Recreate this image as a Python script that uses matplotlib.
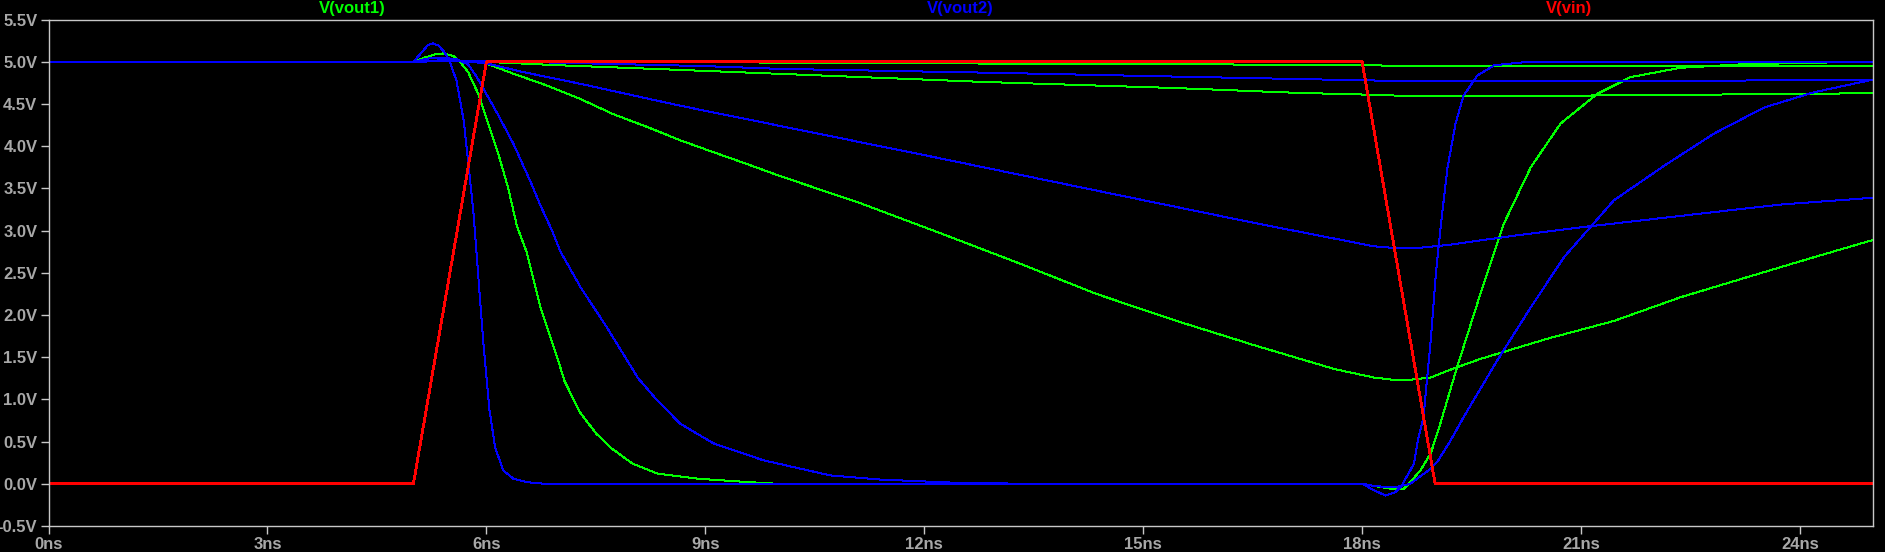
import numpy as np
import matplotlib
matplotlib.use("Agg")
import matplotlib.pyplot as plt

# values (time in ns, volts)
vin_t = [0, 5, 6, 18, 19, 25]
vin_v = [0, 0, 5, 5, 0, 0]

# V(vout1) family (green)
g1_t = [0, 5.0, 5.15, 5.3, 5.41, 5.55, 5.64, 5.75, 5.9, 6.05, 6.15, 6.3, 6.42, 6.55,
        6.74, 6.97, 7.07, 7.28, 7.5, 7.7, 8.0, 8.35, 8.9, 9.6, 10.0, 18.0, 18.2, 18.4,
        18.57, 18.66, 18.8, 18.94, 19.07, 19.3, 19.62, 19.94, 20.31, 20.72, 21.22,
        21.68, 22.36, 23.28, 24.35]
g1_v = [5.0, 5.0, 5.05, 5.09, 5.10, 5.07, 5.0, 4.88, 4.6, 4.2, 3.95, 3.5, 3.05, 2.75,
        2.09, 1.5, 1.22, 0.85, 0.6, 0.43, 0.24, 0.12, 0.06, 0.02, 0.0, 0.0, -0.03, -0.06,
        -0.06, 0.02, 0.16, 0.36, 0.71, 1.38, 2.25, 3.08, 3.75, 4.27, 4.62,
        4.82, 4.93, 4.975, 4.99]

g2_t = [0, 5.0, 5.2, 5.4, 5.6, 5.8, 6.0, 6.37, 6.83, 7.29, 7.74, 8.2, 8.66, 9.11, 9.57,
        10.03, 11.11, 12.19, 13.28, 14.36, 15.44, 16.53, 17.62, 18.16, 18.4, 18.62,
        18.94, 19.17, 19.62, 20.08, 20.54, 21.45, 22.36, 23.28, 24.19, 25.0]
g2_v = [5.0, 5.0, 5.01, 5.02, 5.01, 5.0, 4.98, 4.86, 4.72, 4.56, 4.38, 4.23, 4.07, 3.93, 3.79,
        3.645, 3.33, 2.98, 2.62, 2.25, 1.935, 1.64, 1.36, 1.26, 1.235, 1.23,
        1.26, 1.34, 1.48, 1.60, 1.72, 1.93, 2.21, 2.45, 2.685, 2.89]

g3_t = [0, 5.0, 5.4, 6.0, 7.0, 8.5, 10.03, 12.8, 15.44, 17.2, 17.75, 18.5, 20.9, 22.35, 24.0, 25.0]
g3_v = [5.0, 5.0, 5.01, 5.0, 4.96, 4.91, 4.858, 4.763, 4.69, 4.63, 4.62, 4.60, 4.60, 4.61, 4.62, 4.63]

g4_t = [0, 5.0, 5.4, 6.0, 9.0, 10.03, 13.0, 16.0, 18.0, 18.5, 25.0]
g4_v = [5.0, 5.0, 5.01, 5.0, 5.0, 4.99, 4.98, 4.97, 4.962, 4.953, 4.953]

# V(vout2) family (blue)
b1_t = [0, 5.0, 5.09, 5.2, 5.27, 5.35, 5.43, 5.5, 5.59, 5.69, 5.74, 5.82, 5.89, 5.96,
        6.04, 6.12, 6.23, 6.37, 6.55, 6.8, 18.0, 18.15, 18.32, 18.45, 18.53, 18.66,
        18.71, 18.76, 18.84, 18.94, 19.01, 19.08, 19.17, 19.28, 19.39, 19.58, 19.81,
        20.27, 25.0]
b1_v = [5.0, 5.0, 5.09, 5.2, 5.22, 5.19, 5.11, 5.0, 4.78, 4.3, 3.9, 3.24, 2.45, 1.66,
        0.89, 0.43, 0.16, 0.06, 0.02, 0.0, 0.0, -0.07, -0.14, -0.1, -0.04, 0.16,
        0.24, 0.5, 0.79, 1.70, 2.49, 3.08, 3.75, 4.27, 4.60, 4.84, 4.96,
        5.0, 5.0]

b2_t = [0, 5.0, 5.2, 5.4, 5.6, 5.75, 5.87, 6.0, 6.15, 6.37, 6.6, 6.74, 6.9, 7.01, 7.29,
        7.65, 8.08, 8.34, 8.66, 9.11, 9.79, 10.71, 11.4, 12.5, 13.5, 18.0, 18.2, 18.45,
        18.66, 18.94, 19.03, 19.21, 19.39, 19.85, 20.31, 20.77, 21.45, 22.14, 22.82,
        23.51, 24.19, 25.0]
b2_v = [5.0, 5.0, 5.04, 5.05, 5.03, 4.97, 4.82, 4.62, 4.39, 4.03, 3.59, 3.3, 3.0, 2.76, 2.33,
        1.855, 1.25, 0.99, 0.71, 0.48, 0.28, 0.10, 0.05, 0.01, 0.0, 0.0, -0.03, -0.04,
        0.0, 0.18, 0.26, 0.51, 0.79, 1.46, 2.09, 2.69, 3.36, 3.77, 4.15,
        4.46, 4.64, 4.79]

b3_t = [0, 5.0, 5.4, 5.8, 6.01, 6.5, 7.29, 8.66, 10.03, 12.2, 14.36, 16.53, 18.16, 18.5,
        18.71, 19.17, 20.08, 21.0, 21.91, 22.82, 23.74, 25.0]
b3_v = [5.0, 5.0, 5.02, 5.0, 4.98, 4.88, 4.74, 4.48, 4.24, 3.86, 3.475, 3.09, 2.815, 2.79,
        2.79, 2.83, 2.94, 3.04, 3.13, 3.22, 3.31, 3.39]

b4_t = [0, 5.0, 5.4, 6.5, 7.5, 9.0, 10.03, 13.0, 15.44, 17.7, 18.5, 22.0, 25.0]
b4_v = [5.0, 5.0, 5.01, 5.0, 4.98, 4.95, 4.917, 4.87, 4.826, 4.787, 4.774, 4.774, 4.787]

x_ticks = [0, 3, 6, 9, 12, 15, 18, 21, 24]
y_ticks = [-0.5, 0.0, 0.5, 1.0, 1.5, 2.0, 2.5, 3.0, 3.5, 4.0, 4.5, 5.0, 5.5]
trace_names = ["V(vout1)", "V(vout2)", "V(vin)"]

GREEN = "#00ff00"
BLUE = "#0000ff"
RED = "#ff0000"
LABEL = "#a8a8a8"
FRAME = "#c8c8c8"

plt.rcParams['font.family'] = ['Liberation Sans', 'DejaVu Sans']
plt.rcParams['font.weight'] = 'bold'

fig = plt.figure(figsize=(18.85, 5.52), dpi=100, facecolor="black")
ax = fig.add_axes([48.5 / 1885, 26 / 552, (1873 - 48.5) / 1885, (526 - 19.7) / 552])
ax.set_facecolor("black")

for t, v in [(g1_t, g1_v), (g2_t, g2_v), (g3_t, g3_v), (g4_t, g4_v)]:
    ax.plot(t, v, color=GREEN, lw=0.72, antialiased=False)
for t, v in [(b1_t, b1_v), (b2_t, b2_v), (b3_t, b3_v), (b4_t, b4_v)]:
    ax.plot(t, v, color=BLUE, lw=0.72, antialiased=False)
ax.plot(vin_t, vin_v, color=RED, lw=1.3, antialiased=False)

ax.set_xlim(0, 25)
ax.set_ylim(-0.5, 5.5)
ax.set_xticks(x_ticks)
ax.set_xticklabels([f"{t}ns" for t in x_ticks])
ax.set_yticks(y_ticks)
ax.set_yticklabels([f"{v:.1f}V" for v in y_ticks])
ax.tick_params(colors=FRAME, labelcolor=LABEL, labelsize=12, length=6, width=1, pad=2)
for lab in ax.get_xticklabels() + ax.get_yticklabels():
    lab.set_fontweight("bold")
for s in ax.spines.values():
    s.set_color(FRAME)
    s.set_linewidth(1)

for name, col, xf in zip(trace_names, [GREEN, BLUE, RED], [1 / 6, 1 / 2, 5 / 6]):
    ax.text(xf, 1.0 + 11 / 506, name, transform=ax.transAxes, color=col,
            ha="center", va="center", fontsize=12, fontweight="bold")

fig.savefig("out.png", dpi=100, facecolor="black")
